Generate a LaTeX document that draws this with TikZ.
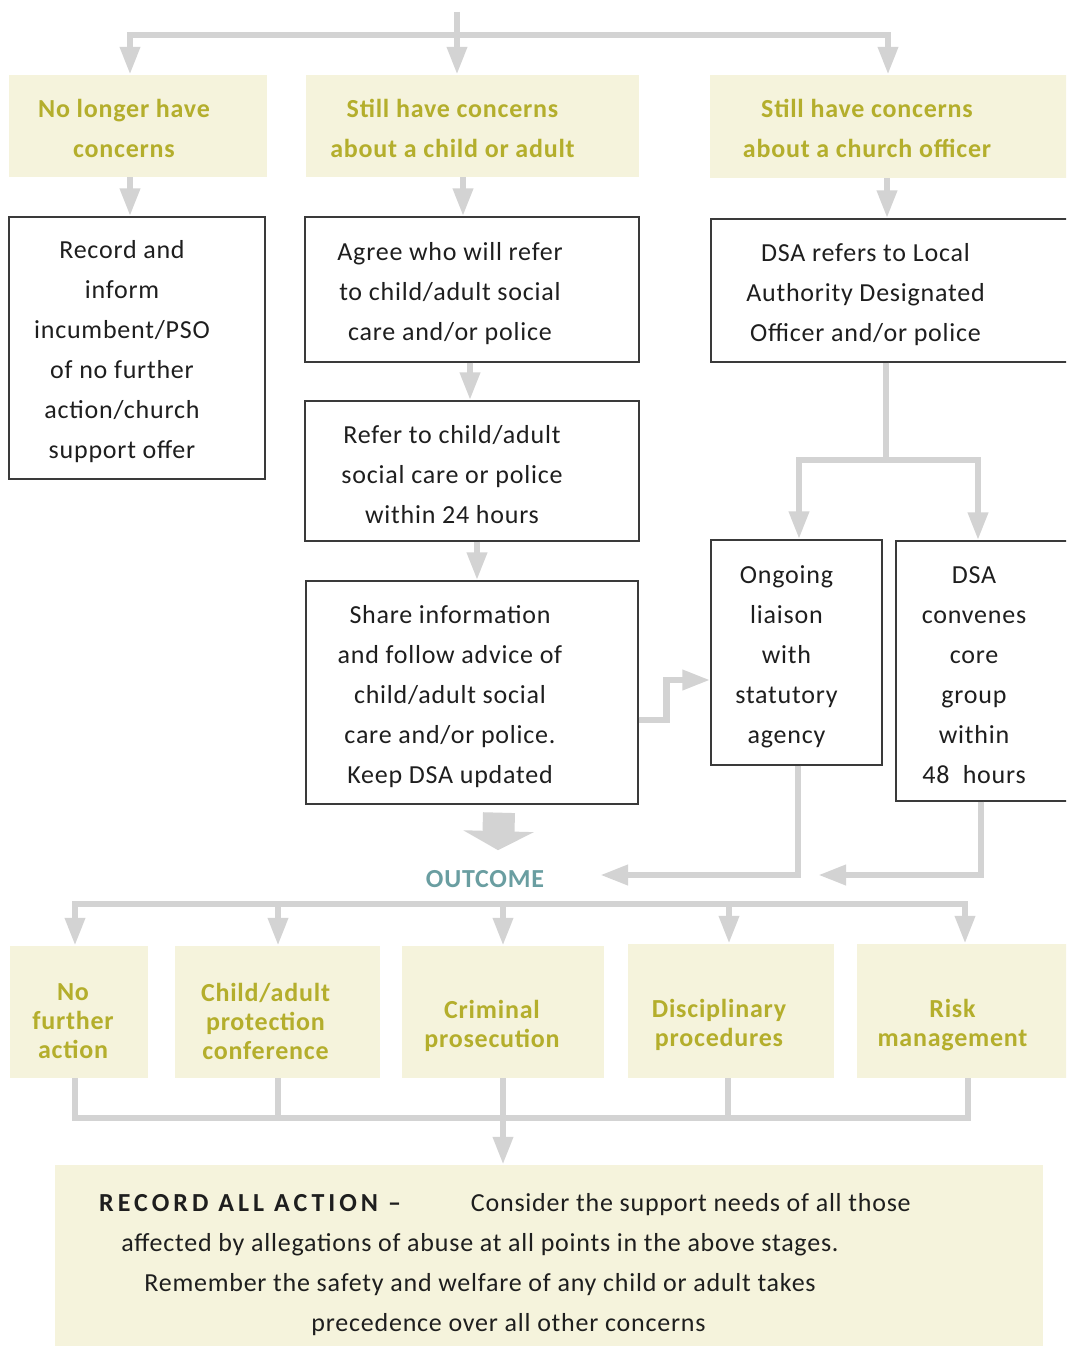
\documentclass[tikz,border=0pt]{standalone}
\usepackage{fontspec}
\setmainfont{Carlito}[LetterSpace=3]
\usetikzlibrary{arrows.meta}
\definecolor{panel}{HTML}{F5F3DC}
\definecolor{olive}{HTML}{B4AE2C}
\definecolor{pipe}{HTML}{D3D3D3}
\definecolor{outcometeal}{HTML}{6A9EA1}
\definecolor{edge}{HTML}{3A3A3A}
\definecolor{ink}{HTML}{1E1E1E}
\tikzset{head node/.style={fill=panel,inner sep=0pt},
	head text/.style={text=olive,font=\fontsize{26}{40}\selectfont\bfseries,align=center,yshift=-2},
	main node/.style={draw=edge,line width=1.3pt,inner sep=0pt},
	main text/.style={text=ink,font=\fontsize{26}{40}\selectfont,align=center,yshift=-4},
	result text/.style={text=olive,font=\fontsize{26}{29}\selectfont\bfseries,align=center},
	outcome text/.style={text=outcometeal,font=\fontsize{26}{30}\selectfont\bfseries,inner sep=0pt},
	link/.style={draw=pipe,line width=6.5pt,-{Triangle[length=28pt,width=19pt]}},
	plain link/.style={draw=pipe,line width=6.5pt},
	big link/.style={draw=pipe,line width=32pt,-{Triangle[length=19pt,width=70pt]}},
}

\begin{document}
\begin{tikzpicture}[x=1pt,y=-1pt]
	\useasboundingbox (0,0) rectangle (1066,1346);
	\clip (0,0) rectangle (1066,1346);
	
	% concerns
	\node[head node,minimum width=258,minimum height=102,label={[head text,xshift=-14]center:No longer have\\concerns}] (nolonger) at (138,126) {};
	\node[head node,minimum width=333,minimum height=102,label={[head text,xshift=-20]center:Still have concerns\\about a child or adult}] (stillchild) at (472.5,126) {};
	\node[head node,minimum width=380,minimum height=103,label={[head text,xshift=-33]center:Still have concerns\\about a church officer}] (stillofficer) at (900,126.5) {};
	
	% actions
	\node[main node,minimum width=256,minimum height=262,label={[main text,xshift=-15]center:Record and\\inform\\incumbent/PSO\\of no further\\action/church\\support offer}] (recordinform) at (137,348) {};
	\node[main node,minimum width=334,minimum height=145,label={[main text,xshift=-22]center:Agree who will refer\\to child/adult social\\care and/or police}] (agreerefer) at (472,289.5) {};
	\node[main node,minimum width=379,minimum height=143,label={[main text,xshift=-35]center:DSA refers to Local\\Authority Designated\\Officer and/or police}] (dsarefer) at (900.5,290.5) {};
	\node[main node,minimum width=334,minimum height=140,label={[main text,xshift=-20]center:Refer to child/adult\\social care or police\\within 24 hours}] (refer) at (472,471) {};
	\node[main node,minimum width=332,minimum height=223,label={[main text,xshift=-22]center:Share information\\and follow advice of\\child/adult social\\care and/or police.\\Keep DSA updated}] (share) at (472,692.5) {};
	\node[main node,minimum width=171,minimum height=225,label={[main text,xshift=-10]center:Ongoing\\liaison\\with\\statutory\\agency}] (liaison) at (796.5,652.5) {};
	\node[main node,minimum width=194,minimum height=260,label={[main text,xshift=-19]center:DSA\\convenes\\core\\group\\within\\48~~hours}] (convenes) at (993,671) {};
	
	\node[outcome text] (outcome) at (485,879) {OUTCOME};
	
	% outcomes
	\node[head node,minimum width=138,minimum height=132,label={[result text,xshift=-6,yshift=-9]center:No\\further\\action}] (nofurther) at (79,1012) {};
	\node[head node,minimum width=205,minimum height=132,label={[result text,xshift=-12,yshift=-9]center:Child/adult\\protection\\conference}] (protection) at (277.5,1012) {};
	\node[head node,minimum width=202,minimum height=132,label={[result text,xshift=-11,yshift=-14]center:Criminal\\prosecution}] (prosecution) at (503,1012) {};
	\node[head node,minimum width=206,minimum height=134,label={[result text,xshift=-12,yshift=-14]center:Disciplinary\\procedures}] (disciplinary) at (731,1011) {};
	\node[head node,minimum width=233,minimum height=134,label={[result text,xshift=-21,yshift=-14]center:Risk\\management}] (riskmgmt) at (973.5,1011) {};
	
	\node[head node,minimum width=988,minimum height=185,label={[main text,xshift=-69,yshift=-3]center:\hspace*{50pt}{\addfontfeature{LetterSpace=15.5}\bfseries RECORD ALL ACTION --}\hspace{70pt}Consider the support needs of all those\\affected by allegations of abuse at all points in the above stages.\\Remember the safety and welfare of any child or adult takes\\\hspace*{57pt}precedence over all other concerns}] (recordall) at (549,1257.5) {};
	
	% connectors
	\coordinate (entry) at (457,12);
	\coordinate (fork) at (457,35);
	\draw[link] (entry) -- (entry |- stillchild.north);
	\draw[link] (fork) -| ([xshift=-8]nolonger.north);
	\draw[link] (fork) -| ([xshift=-12]stillofficer.north);
	
	\draw[link] ([xshift=-8]nolonger.south) -- ([xshift=-7]recordinform.north);
	\draw[link] ([xshift=-9.5]stillchild.south) -- ([xshift=-9]agreerefer.north);
	\draw[link] ([xshift=-13]stillofficer.south) -- ([xshift=-13.5]dsarefer.north);
	\draw[link] ([xshift=-2]agreerefer.south) -- ([xshift=-2]refer.north);
	\draw[link] ([xshift=5]refer.south) -- ([xshift=5]share.north);
	
	\coordinate (branch) at (886,460);
	\draw[plain link] ([xshift=-14.5]dsarefer.south) -- (branch);
	\draw[link] (branch) -| ([xshift=2.5]liaison.north);
	\draw[link] (branch) -| ([xshift=-15]convenes.north);
	\draw[link] ([yshift=-27.5]share.east) -- ++(28,0) |- ([yshift=-27.5]liaison.west);
	
	\coordinate (mergeleft) at (600,875);
	\coordinate (mergeright) at (818,875);
	\draw[link] ([xshift=1.5]liaison.south) |- (mergeleft);
	\draw[link] ([xshift=-12]convenes.south) |- (mergeright);
	\draw[big link] ([xshift=27,yshift=-8]share.south) -- ([xshift=13,yshift=20]outcome.north);
	
	\coordinate (outfork) at (503,904);
	\draw[link] (outfork) -| ([xshift=-4]nofurther.north);
	\draw[link] (outfork) -| ([xshift=0.5]protection.north);
	\draw[link] (outfork) -- (prosecution.north);
	\draw[link] (outfork) -| ([xshift=-2]disciplinary.north);
	\draw[link] (outfork) -| ([xshift=-8.5]riskmgmt.north);
	
	\coordinate (infork) at (503,1118);
	\draw[plain link] ([xshift=-4]nofurther.south) |- (infork);
	\draw[plain link] ([xshift=0.5]protection.south) |- (infork);
	\draw[plain link] ([xshift=-3]disciplinary.south) |- (infork);
	\draw[plain link] ([xshift=-5.5]riskmgmt.south) |- (infork);
	\draw[link] (prosecution.south) -- (prosecution.south |- recordall.north);
\end{tikzpicture}
\end{document}
